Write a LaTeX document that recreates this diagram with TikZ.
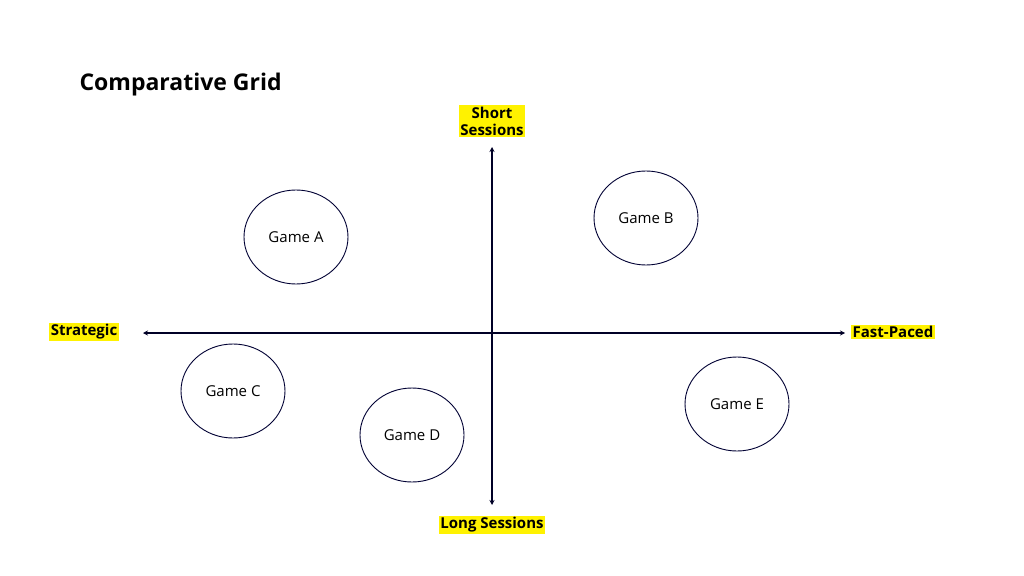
\documentclass[tikz,border=0pt]{standalone}
\usepackage{fontspec}
\setmainfont{Open Sans}
\usetikzlibrary{shapes.geometric,arrows.meta}
\begin{document}
\begin{tikzpicture}[x=1pt,y=-1pt,
  game/.style={draw=black!80!blue,line width=0.9pt,ellipse,minimum width=104pt,minimum height=94pt,inner sep=0pt,font=\fontsize{15}{18}\selectfont},
  lab/.style={fill=yellow,inner sep=1.5pt,font=\bfseries\fontsize{15}{17}\selectfont,align=center},
  ax/.style={line width=2.2pt,draw=black!85!blue,-{Stealth[length=5pt,width=5pt]}}]
\useasboundingbox (0,0) rectangle (1024,575);
\node[anchor=west,font=\bfseries\fontsize{23}{26}\selectfont] (t) at (76,85) {Comparative Grid};
\node[lab] (s) at (492,121) {Short\\Sessions};
\node[lab] (l) at (492,525) {Long Sessions};
\node[lab] (st) at (84,332) {Strategic};
\node[lab] (f) at (893,332) {Fast-Paced};
\coordinate (o) at (492,333);
\coordinate (top) at (492,147);
\coordinate (bot) at (492,505);
\coordinate (lft) at (143,333);
\coordinate (rgt) at (845,333);
\draw[ax] (o) -- (top);
\draw[ax] (o) -- (bot);
\draw[ax] (o) -- (lft);
\draw[ax] (o) -- (rgt);
\node[game] (a) at (296,237) {Game A};
\node[game] (b) at (646,218) {Game B};
\node[game] (c) at (233,391) {Game C};
\node[game] (d) at (412,435) {Game D};
\node[game] (e) at (737,404) {Game E};
\end{tikzpicture}
\end{document}
